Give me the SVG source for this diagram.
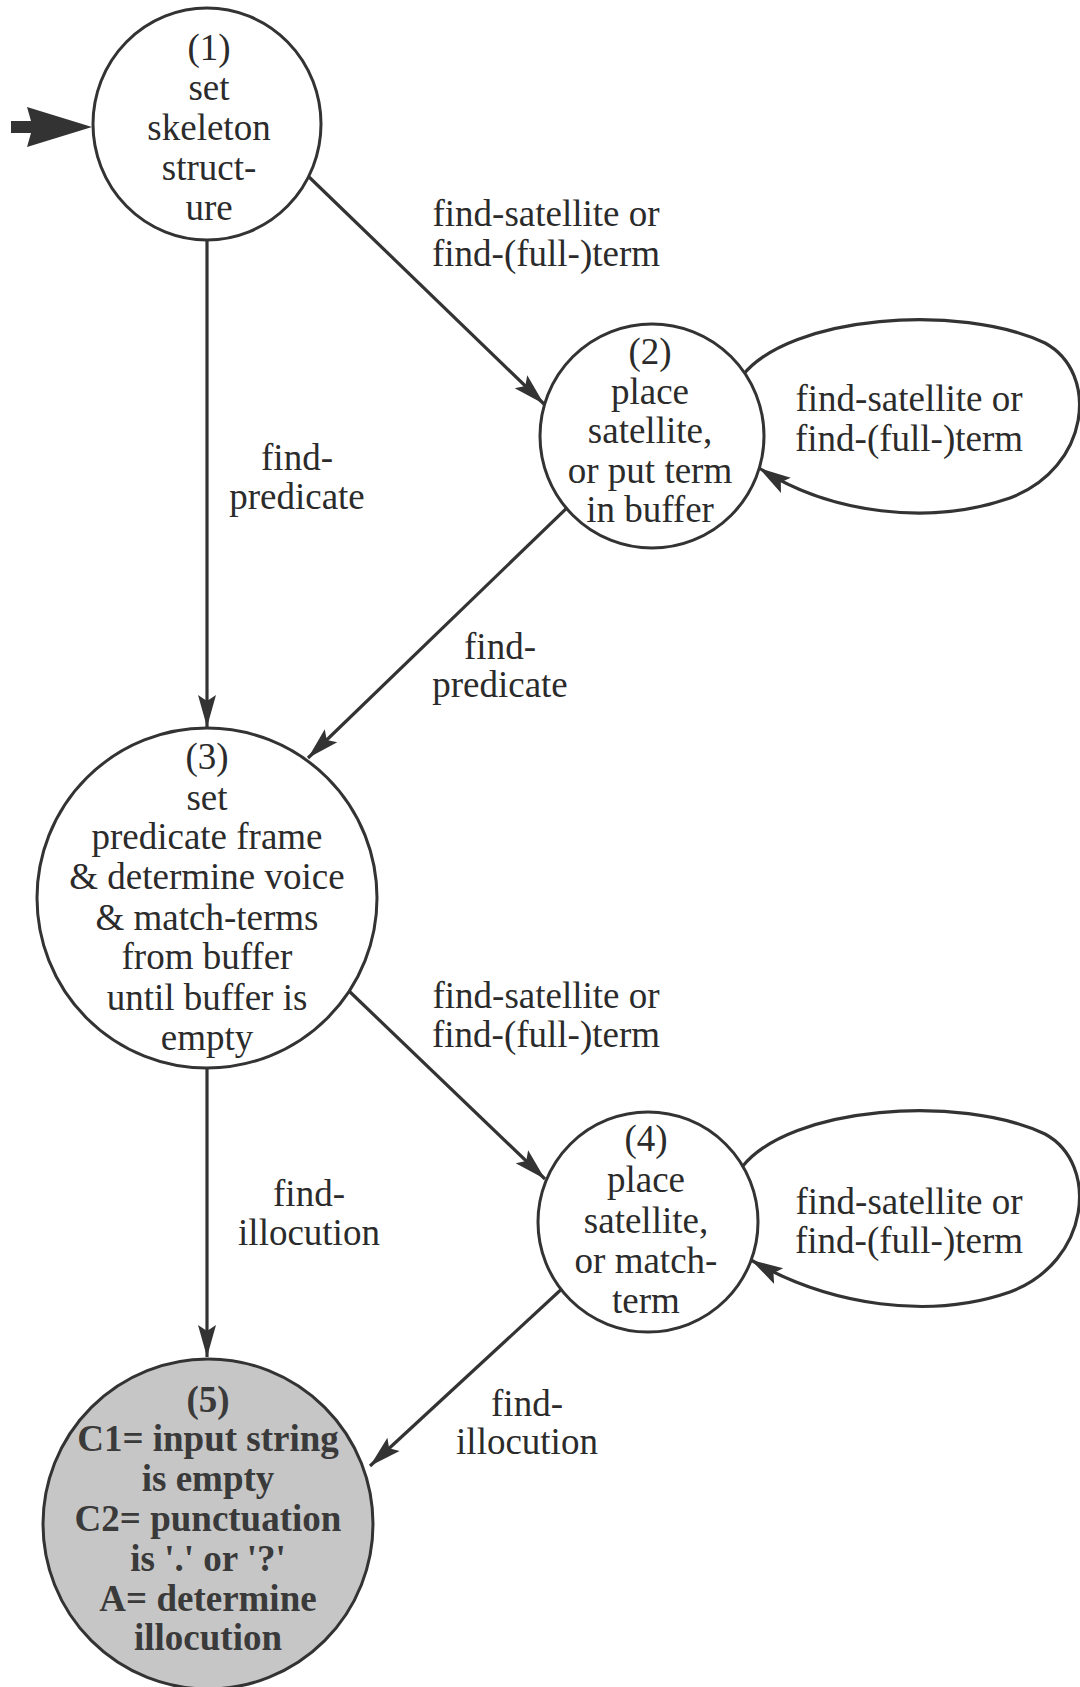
<svg xmlns="http://www.w3.org/2000/svg" width="1080" height="1687" viewBox="0 0 1080 1687">
<style>
.n{fill:#fff;stroke:#333;stroke-width:3}
.n5{fill:#c6c6c6;stroke:#333;stroke-width:3}
.e{fill:none;stroke:#333;stroke-width:3.2;marker-end:url(#ah)}
text{font-family:"Liberation Serif","Times New Roman",serif;font-size:37px;fill:#2b2b2b;text-anchor:middle}
.b{font-weight:bold;fill:#3a3a3a}
</style>
<defs>
<marker id="ah" markerWidth="34" markerHeight="20" refX="32" refY="10" orient="auto" markerUnits="userSpaceOnUse">
<path d="M0,1 L32,10 L0,19 L6,10 z" fill="#333"/>
</marker>
</defs>
<rect width="1080" height="1687" fill="#fff"/>
<g id="connectors">
<polygon points="11,121 31,121 27,107 92,127 27,147 31,133 11,133" fill="#333"/>
<line class="e" x1="207" y1="238" x2="207" y2="727"/>
<line class="e" x1="308" y1="176" x2="544" y2="404"/>
<line class="e" x1="572" y1="503" x2="308" y2="758"/>
<path class="e" d="M742,376 C790,315 960,303 1045,343 C1100,373 1090,468 1010,498 C930,526 830,514 759,468"/>
<line class="e" x1="349" y1="991" x2="545" y2="1179"/>
<line class="e" x1="207" y1="1065" x2="207" y2="1357"/>
<path class="e" d="M742,1167 C790,1106 960,1094 1045,1134 C1100,1164 1090,1262 1010,1292 C930,1320 830,1306 751,1260"/>
<line class="e" x1="566" y1="1285" x2="370" y2="1466"/>
<text x="546" y="226">find-satellite or</text>
<text x="546" y="266">find-(full-)term</text>
<text x="297" y="470">find-</text>
<text x="297" y="509">predicate</text>
<text x="909" y="411">find-satellite or</text>
<text x="909" y="451">find-(full-)term</text>
<text x="500" y="659">find-</text>
<text x="500" y="697">predicate</text>
<text x="546" y="1008">find-satellite or</text>
<text x="546" y="1047">find-(full-)term</text>
<text x="909" y="1214">find-satellite or</text>
<text x="909" y="1253">find-(full-)term</text>
<text x="309" y="1206">find-</text>
<text x="309" y="1245">illocution</text>
<text x="527" y="1416">find-</text>
<text x="527" y="1454">illocution</text>
</g>
<g id="node1">
<ellipse class="n" cx="207" cy="124" rx="114" ry="116"/>
<text x="209" y="60">(1)</text>
<text x="209" y="100">set</text>
<text x="209" y="140">skeleton</text>
<text x="209" y="180">struct-</text>
<text x="209" y="220">ure</text>
</g>
<g id="node2">
<circle class="n" cx="652" cy="436" r="112"/>
<text x="650" y="364">(2)</text>
<text x="650" y="404">place</text>
<text x="650" y="443">satellite,</text>
<text x="650" y="483">or put term</text>
<text x="650" y="522">in buffer</text>
</g>
<g id="node3">
<circle class="n" cx="207" cy="898" r="170"/>
<text x="207" y="769">(3)</text>
<text x="207" y="810">set</text>
<text x="207" y="849">predicate frame</text>
<text x="207" y="889">&amp; determine voice</text>
<text x="207" y="930">&amp; match-terms</text>
<text x="207" y="969">from buffer</text>
<text x="207" y="1010">until buffer is</text>
<text x="207" y="1050">empty</text>
</g>
<g id="node4">
<circle class="n" cx="648" cy="1222" r="110"/>
<text x="646" y="1151">(4)</text>
<text x="646" y="1192">place</text>
<text x="646" y="1233">satellite,</text>
<text x="646" y="1273">or match-</text>
<text x="646" y="1313">term</text>
</g>
<g id="node5">
<circle class="n5" cx="208" cy="1524" r="165"/>
<text class="b" x="208" y="1412">(5)</text>
<text class="b" x="208" y="1451">C1= input string</text>
<text class="b" x="208" y="1491">is empty</text>
<text class="b" x="208" y="1531">C2= punctuation</text>
<text class="b" x="208" y="1571">is '.' or '?'</text>
<text class="b" x="208" y="1611">A= determine</text>
<text class="b" x="208" y="1650">illocution</text>
</g>
</svg>
